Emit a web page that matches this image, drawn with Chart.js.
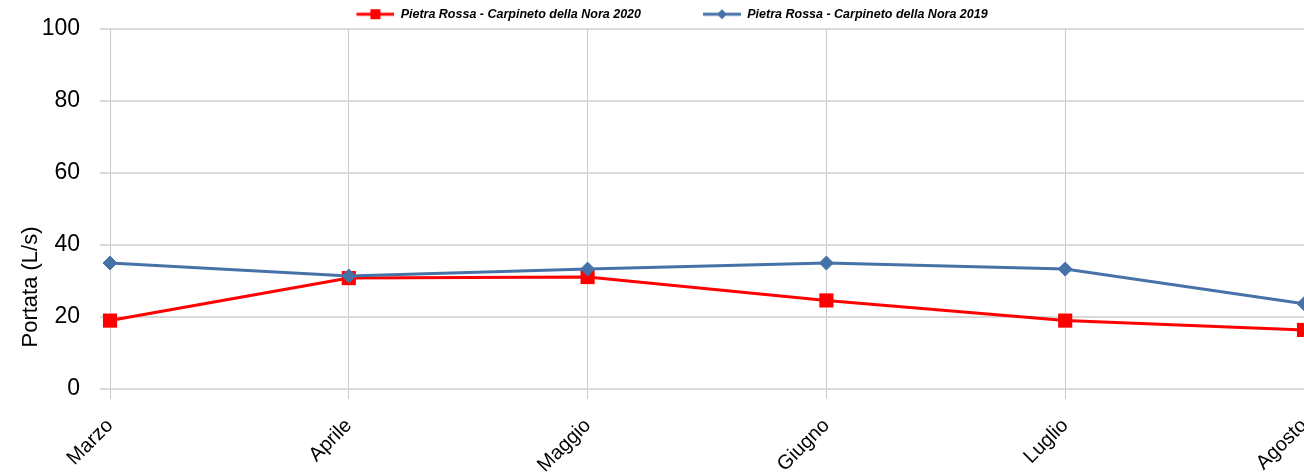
<!DOCTYPE html>
<html>
<head>
<meta charset="utf-8">
<script src="https://cdn.jsdelivr.net/npm/chart.js@4/dist/chart.umd.min.js"></script>
<style>
  html, body { margin: 0; padding: 0; background: #fff; }
  #wrap { position: relative; width: 1304px; height: 476px; overflow: hidden; }
  #chart { position: absolute; left: -30px; top: 0; }
</style>
</head>
<body>
<div id="wrap"><canvas id="chart" width="1344" height="476"></canvas></div>
<script>
// months on the x axis
const months = ['Marzo', 'Aprile', 'Maggio', 'Giugno', 'Luglio', 'Agosto'];
// flow (L/s)
const portata2020 = [19.0, 30.8, 31.1, 24.6, 19.0, 16.4];
const portata2019 = [35.0, 31.4, 33.3, 35.0, 33.3, 23.7];
const seriesNames = ['Pietra Rossa - Carpineto della Nora 2020', 'Pietra Rossa - Carpineto della Nora 2019'];
const yAxisTitle = 'Portata (L/s)';
const yMin = 0, yMax = 100, yStep = 20;

const RED = '#ff0000';
const BLUE = '#4672a8';
const FONT = 'Liberation Sans, Arial, sans-serif';

// little line + marker picture for the legend (line sits in the right part)
function legendIcon(color, shape) {
  const c = document.createElement('canvas');
  c.width = 95; c.height = 12;
  const g = c.getContext('2d');
  g.strokeStyle = color; g.fillStyle = color; g.lineWidth = 3;
  g.beginPath(); g.moveTo(57, 6); g.lineTo(95, 6); g.stroke();
  const cx = 76;
  if (shape === 'square') {
    g.fillRect(cx - 5, 1, 10, 10);
  } else {
    g.beginPath();
    g.moveTo(cx - 5, 6); g.lineTo(cx, 1); g.lineTo(cx + 5, 6); g.lineTo(cx, 11);
    g.closePath(); g.fill();
  }
  return c;
}
const icons = [legendIcon(RED, 'square'), legendIcon(BLUE, 'diamond')];

// keep the legend strip thin
const legendHeightPlugin = {
  id: 'legendHeight',
  beforeLayout(chart) {
    const lg = chart.legend;
    if (lg && !lg._thin) {
      const fit = lg.fit;
      lg.fit = function () { fit.call(this); this.height = 26; };
      lg._thin = true;
    }
  },
};

// y axis title, drawn lower than the centre like the original
const yTitlePlugin = {
  id: 'yTitle',
  afterDraw(chart) {
    const c = chart.ctx;
    c.save();
    c.translate(61, 287);
    c.rotate(-Math.PI / 2);
    c.font = '22px ' + FONT;
    c.fillStyle = '#000';
    c.textAlign = 'center';
    c.textBaseline = 'middle';
    c.fillText(yAxisTitle, 0, 0);
    c.restore();
  },
};

const ctx = document.getElementById('chart').getContext('2d');
new Chart(ctx, {
  type: 'line',
  data: {
    labels: months,
    datasets: [
      {
        label: seriesNames[0],
        data: portata2020,
        borderColor: RED,
        backgroundColor: RED,
        borderWidth: 3,
        pointStyle: 'rect',
        pointRadius: 10,
        pointBorderWidth: 0,
        tension: 0,
        clip: false,
        order: 1,
      },
      {
        label: seriesNames[1],
        data: portata2019,
        borderColor: BLUE,
        backgroundColor: BLUE,
        borderWidth: 3,
        pointStyle: 'rectRot',
        pointRadius: 7,
        pointBorderWidth: 1,
        tension: 0,
        clip: false,
        order: 0,
      },
    ],
  },
  plugins: [legendHeightPlugin, yTitlePlugin],
  options: {
    responsive: false,
    animation: false,
    layout: { padding: { left: 3, right: 0, top: 3, bottom: 0 } },
    plugins: {
      tooltip: { enabled: false },
      legend: {
        position: 'top',
        labels: {
          usePointStyle: true,
          pointStyleWidth: 95,
          padding: 5,
          color: '#000',
          font: { family: FONT, size: 12.5, style: 'italic', weight: 'bold' },
          generateLabels: (chart) => chart.data.datasets.map((ds, i) => ({
            text: ds.label,
            pointStyle: icons[i],
            fillStyle: ds.borderColor,
            strokeStyle: ds.borderColor,
            lineWidth: 0,
            hidden: false,
            datasetIndex: i,
            fontColor: '#000',
          })),
        },
      },
    },
    scales: {
      x: {
        offset: false,
        border: { display: false },
        grid: { color: '#c8c8c8', lineWidth: 1, tickLength: 10 },
        ticks: {
          minRotation: 45,
          maxRotation: 45,
          padding: 15,
          color: '#000',
          font: { family: FONT, size: 20 },
        },
        afterFit(scale) {
          scale.height = 87;
          scale.paddingRight = 0;
          scale.paddingLeft = 0;
        },
      },
      y: {
        min: yMin,
        max: yMax,
        border: { display: false },
        grid: { color: '#d9d9d9', lineWidth: 2, tickLength: 10 },
        ticks: {
          stepSize: yStep,
          padding: 20,
          color: '#000',
          font: { family: FONT, size: 23 },
        },
        afterFit(scale) {
          scale.width = 137;
          scale.paddingTop = 0;
          scale.paddingBottom = 0;
        },
      },
    },
  },
});
</script>
</body>
</html>
